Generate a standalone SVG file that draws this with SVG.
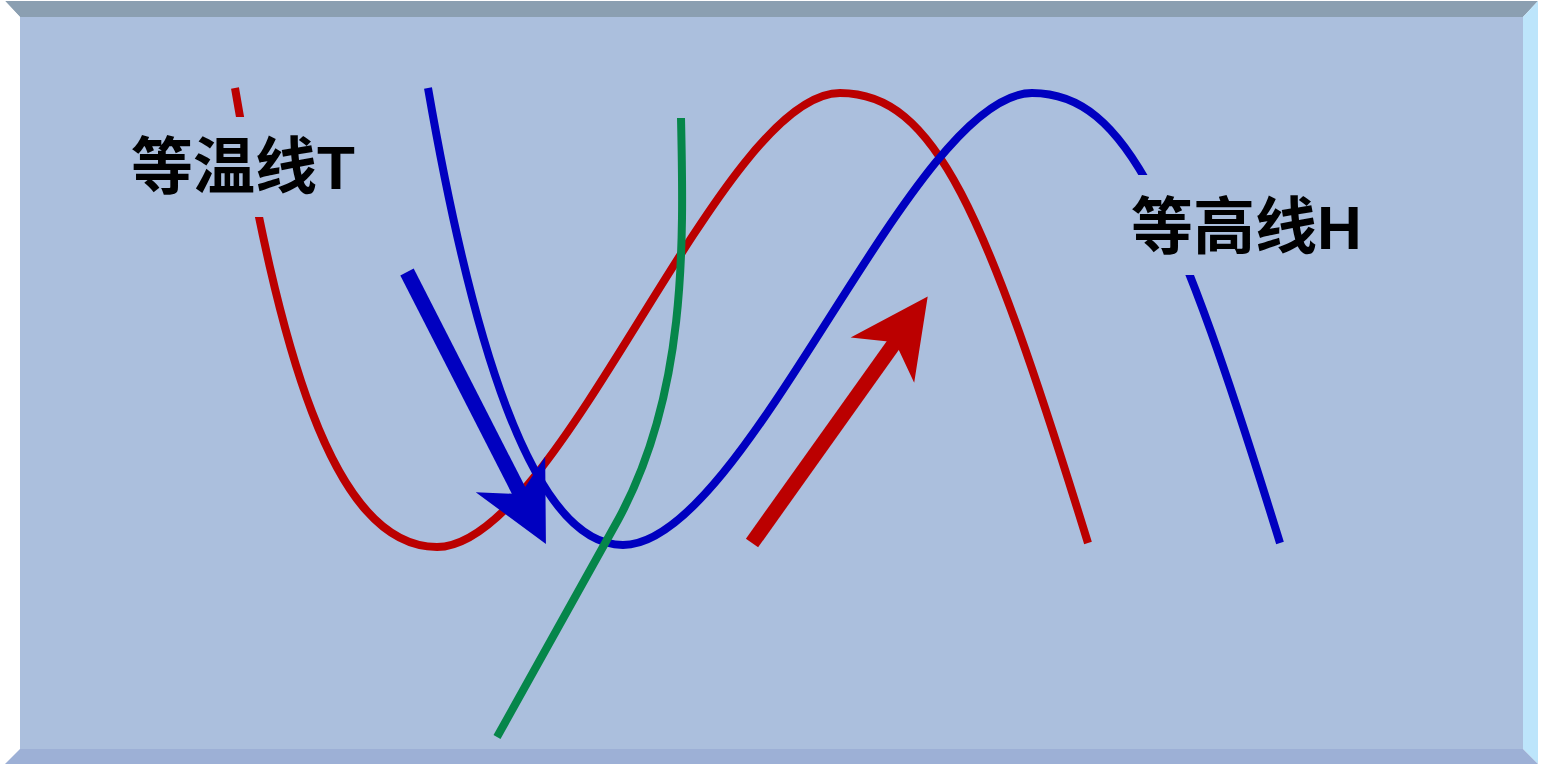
<svg xmlns="http://www.w3.org/2000/svg" width="1542" height="766" viewBox="0 0 1542 766">
  <defs>
    <style>
      .curve { fill: none; stroke-width: 8; stroke-linecap: butt; }
      .red { stroke: #bb0000; }
      .blue { stroke: #0000c0; }
      .green { stroke: #06864a; }
      .shaft { fill: none; stroke-width: 15; stroke-linecap: butt; }
      .label { font-family: "Liberation Sans", "Noto Sans CJK SC", sans-serif; font-weight: bold; font-size: 62px; fill: #000000; }
      .labelbg { fill: #abbfdd; }
    </style>
    <marker id="headBlue" markerUnits="userSpaceOnUse" viewBox="0 0 80 78" markerWidth="80" markerHeight="78" refX="32" refY="39" orient="auto" overflow="visible">
      <path d="M78,39 L0,0 L22,39 L0,78 Z" fill="#0000c0"/>
    </marker>
    <marker id="headRed" markerUnits="userSpaceOnUse" viewBox="0 0 80 78" markerWidth="80" markerHeight="78" refX="32" refY="39" orient="auto" overflow="visible">
      <path d="M78,39 L0,0 L22,39 L0,78 Z" fill="#bb0000"/>
    </marker>
  </defs>

  <g id="frame">
    <rect x="0" y="0" width="1542" height="766" fill="#ffffff"/>
    <polygon points="5,1 1538,1 1523,17 20,17" fill="#8b9fb1"/>
    <polygon points="5,1 20,17 20,749 5,764" fill="#ffffff"/>
    <polygon points="1538,1 1538,764 1523,749 1523,17" fill="#bde5fb"/>
    <polygon points="5,764 20,749 1523,749 1538,764" fill="#9db0d6"/>
    <rect x="20" y="17" width="1503" height="732" fill="#abbfdd"/>
  </g>

  <g id="connectors">
    <path id="isotherm-T" class="curve red" d="M235,88 C278,340 330,547 437,547 C560,547 720,93 840,93 C935,93 985,210 1088,543"/>
    <path id="contour-H" class="curve blue" d="M428,88 C470,330 530,545 623,545 C746,545 912,93 1032,93 C1127,93 1177,210 1280,543"/>
    <path id="green-line" class="curve green" d="M681,118 C684,250 686,395 618,520 L497,737"/>
    <line id="arrow-blue" class="shaft" stroke="#0000c0" x1="407" y1="272" x2="525" y2="503" marker-end="url(#headBlue)"/>
    <line id="arrow-red" class="shaft" stroke="#bb0000" x1="752" y1="543" x2="901" y2="334" marker-end="url(#headRed)"/>
  </g>

  <g id="label-T">
    <rect class="labelbg" x="120" y="117" width="245" height="100"/>
    <text class="label" x="131" y="189">等温线T</text>
  </g>

  <g id="label-H">
    <rect class="labelbg" x="1120" y="175" width="255" height="100"/>
    <text class="label" x="1131" y="249">等高线H</text>
  </g>
</svg>
